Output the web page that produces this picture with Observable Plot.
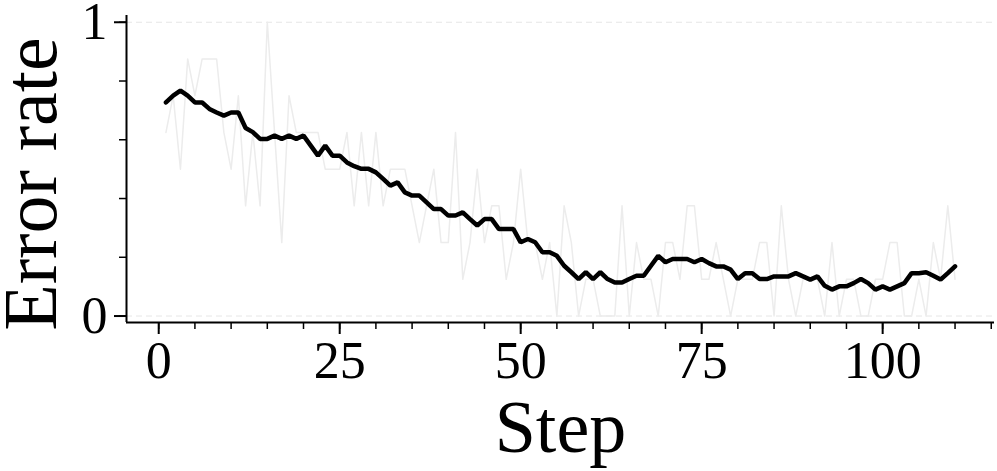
<!DOCTYPE html>
<html><head><meta charset="utf-8">
<script src="https://cdn.jsdelivr.net/npm/d3@7"></script>
<script src="https://cdn.jsdelivr.net/npm/@observablehq/plot@0.6"></script>
<style>
body{margin:0;background:#fff;}
svg{font-family:"Liberation Serif","Times New Roman",serif;}
</style>
</head><body><div id="chart"></div>
<script>
// Raw error rate per step (values are multiples of 1/8)
const rawError = [
  .625,.75,.5,.875,.75,.875,.875,.875,.625,.5,
  .75,.375,.625,.375,1,.625,.25,.75,.625,.625,
  .625,.625,.5,.5,.5,.625,.375,.625,.375,.625,
  .375,.5,.5,.5,.375,.25,.375,.5,.25,.25,
  .625,.125,.25,.5,.25,.375,.375,.125,.25,.5,
  .25,.25,.125,.25,0,.375,.25,0,.125,.125,
  0,0,0,.375,0,.25,.125,.125,0,.25,
  .25,.125,.375,.375,.125,.125,.25,.125,0,.125,
  .125,.125,.25,.25,0,.375,.125,0,.125,.125,
  .125,0,.25,0,.125,.125,0,0,.125,.125,
  .25,.25,0,0,.125,0,.25,.125,.375,.125
];
// Smoothed error rate per step
const smoothError = [
  .727,.75,.767,.75,.727,.727,.705,.693,.682,.693,
  .693,.640,.626,.603,.603,.614,.603,.614,.603,.614,
  .580,.546,.580,.546,.546,.523,.510,.501,.501,.489,
  .467,.444,.455,.421,.41,.41,.387,.364,.364,.342,
  .342,.353,.330,.308,.330,.330,.296,.296,.296,.251,
  .262,.251,.217,.217,.205,.171,.149,.126,.149,.126,
  .149,.126,.114,.114,.126,.137,.137,.171,.205,.183,
  .194,.194,.194,.183,.194,.180,.169,.169,.158,.126,
  .146,.146,.126,.126,.135,.135,.135,.146,.135,.124,
  .135,.103,.090,.101,.101,.112,.126,.112,.090,.101,
  .090,.101,.112,.146,.146,.149,.137,.124,.146,.169
];
const steps = rawError.map((_, i) => i + 1);
const xMajorTicks = [0, 25, 50, 75, 100];
const xMinorTicks = d3.range(0, 116, 5);
const yMajorTicks = [0, 1];
const yMinorTicks = [0, 0.2, 0.4, 0.6, 0.8, 1];
const gridValues = [0, 1];
const xLabel = "Step";
const yLabel = "Error rate";

const xDomain = [-4.45, 115.45];
const yDomain = [-0.022, 1.023];

const rawData = steps.map((s, i) => ({step: s, value: rawError[i]}));
const smoothData = steps.map((s, i) => ({step: s, value: smoothError[i]}));

const chart = Plot.plot({
  width: 997,
  height: 471,
  marginLeft: 126,
  marginRight: 3,
  marginTop: 15,
  marginBottom: 149,
  style: {fontFamily: '"Liberation Serif","Times New Roman",serif', background: "#fff", color: "#000"},
  x: {domain: xDomain, axis: null},
  y: {domain: yDomain, axis: null},
  marks: [
    Plot.gridY(gridValues, {stroke: "#e6e6e6", strokeOpacity: 1, strokeWidth: 1, strokeDasharray: "6,4"}),
    Plot.line(rawData, {x: "step", y: "value", stroke: "#ececec", strokeWidth: 1.5}),
    Plot.line(smoothData, {x: "step", y: "value", stroke: "#000", strokeWidth: 4.5, strokeLinejoin: "miter"}),
    Plot.ruleX([xDomain[0]], {stroke: "#000", strokeWidth: 2}),
    Plot.ruleY([yDomain[0]], {stroke: "#000", strokeWidth: 2}),
    Plot.axisX(xMinorTicks, {anchor: "bottom", label: null, tickSize: 7, strokeWidth: 1.5, tickFormat: () => ""}),
    Plot.axisX(xMajorTicks, {anchor: "bottom", label: null, tickSize: 12, tickPadding: 7, strokeWidth: 2, fontSize: 52, fill: "#000", tickFormat: d => String(d)}),
    Plot.axisY(yMinorTicks, {anchor: "left", label: null, tickSize: 7, strokeWidth: 1.5, tickFormat: () => ""}),
    Plot.axisY(yMajorTicks, {anchor: "left", label: null, tickSize: 12, tickPadding: 7, strokeWidth: 2, fontSize: 52, fill: "#000", tickFormat: d => String(d)}),
    Plot.text([xLabel], {frameAnchor: "bottom", textAnchor: "middle", lineAnchor: "top", dy: 77, fontSize: 74, fill: "#000"}),
    Plot.text([yLabel], {frameAnchor: "left", textAnchor: "middle", lineAnchor: "middle", rotate: -90, dx: -95, dy: 15, fontSize: 76, letterSpacing: "3px", fill: "#000"})
  ]
});
document.getElementById("chart").appendChild(chart);
</script>
</body></html>
